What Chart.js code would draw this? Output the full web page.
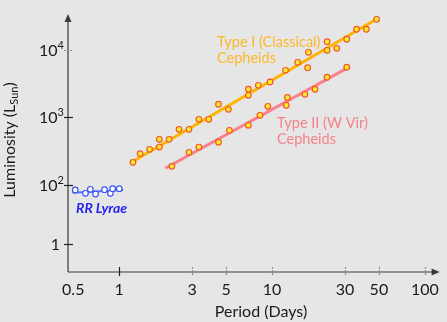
<!DOCTYPE html>
<html>
<head>
<meta charset="utf-8">
<script src="https://cdn.jsdelivr.net/npm/chart.js@4.4.1/dist/chart.umd.min.js"></script>
<style>
  html, body { margin: 0; padding: 0; background: #e6e6e6; }
  #wrap { width: 447px; height: 322px; }
</style>
</head>
<body>
<div id="wrap"><canvas id="chart" width="447" height="322"></canvas></div>
<script>
// tick values for both log axes
const periodTicks = [0.5, 1, 3, 5, 10, 30, 50, 100];
const lumTicks = [13.4, 100, 1000, 10000];
const lumTickLabels = ["1", "10^2", "10^3", "10^4"];

// Type I (classical) cepheids
const type1Period = [1.23, 1.37, 1.58, 1.83, 1.83, 2.12, 2.46, 2.86, 3.32, 3.85, 4.46, 5.18, 7.0, 7.0, 8.13, 9.7, 12.25, 14.7, 17.1, 17.3, 22.9, 22.9, 26.5, 30.8, 35.7, 41.4, 48.3];
const type1Lum = [217, 291, 338, 475, 365, 475, 668, 668, 940, 940, 1570, 1321, 2620, 2133, 3000, 3360, 5000, 6575, 5470, 9250, 13270, 9900, 10600, 14430, 20300, 20300, 28500];
const type1FitPeriod = [1.18, 49.7];
const type1FitLum = [212, 29800];

// Type II (W Vir) cepheids
const type2Period = [2.21, 2.86, 3.32, 4.46, 5.26, 7.0, 8.33, 9.38, 12.4, 12.6, 16.4, 19.1, 22.9, 30.8];
const type2Lum = [189, 305, 365, 430, 646, 766, 1078, 1466, 1517, 1977, 2207, 2620, 3945, 5550];
const type2FitPeriod = [2.0, 32.3];
const type2FitLum = [177, 5660];

// RR Lyrae
const rrPeriod = [0.515, 0.601, 0.647, 0.70, 0.80, 0.875, 0.905, 1.0];
const rrLum = [84.3, 75.3, 86.3, 73.5, 85.2, 75.3, 88.1, 88.1];
const rrFitPeriod = [0.495, 1.06];
const rrFitLum = [76.9, 84.3];

const FONT = "Lato, 'Open Sans', sans-serif";

function pts(xs, ys) {
  return xs.map((x, i) => ({ x: x, y: ys[i] }));
}

const axesPlugin = {
  id: "axesPlugin",
  afterDraw(chart) {
    const ctx = chart.ctx;
    const a = chart.chartArea;
    const xs = chart.scales.x;
    const ys = chart.scales.y;
    ctx.save();

    // axis lines + arrows
    ctx.strokeStyle = "#3a3a3a";
    ctx.fillStyle = "#3a3a3a";
    ctx.lineWidth = 1.2;
    ctx.beginPath();
    ctx.moveTo(a.left, a.bottom);
    ctx.lineTo(a.left, a.top + 4);
    ctx.moveTo(a.left, a.bottom);
    ctx.lineTo(a.right - 4, a.bottom);
    ctx.stroke();
    ctx.beginPath();
    ctx.moveTo(a.left, a.top - 1);
    ctx.lineTo(a.left - 3.5, a.top + 7);
    ctx.lineTo(a.left + 3.5, a.top + 7);
    ctx.closePath();
    ctx.fill();
    ctx.beginPath();
    ctx.moveTo(a.right + 1, a.bottom);
    ctx.lineTo(a.right - 7, a.bottom - 3.5);
    ctx.lineTo(a.right - 7, a.bottom + 3.5);
    ctx.closePath();
    ctx.fill();

    // tick marks crossing the axes
    periodTicks.forEach(v => {
      if (v < 0.9) return;
      const px = Math.round(xs.getPixelForValue(v)) + 0.5;
      const light = v > 1;
      ctx.strokeStyle = light ? "#8c8c8c" : "#222";
      ctx.setLineDash(light ? [2, 1] : []);
      ctx.beginPath();
      ctx.moveTo(px, a.bottom - 5);
      ctx.lineTo(px, a.bottom + 4);
      ctx.stroke();
    });
    lumTicks.forEach((v, i) => {
      const py = Math.round(ys.getPixelForValue(v)) + 0.5;
      const light = v >= 10000;
      ctx.strokeStyle = light ? "#8c8c8c" : "#222";
      ctx.setLineDash(light ? [2, 1] : []);
      ctx.beginPath();
      ctx.moveTo(a.left - 4, py);
      ctx.lineTo(a.left + 5, py);
      ctx.stroke();

      // y tick labels with superscripts
      const parts = lumTickLabels[i].split("^");
      ctx.fillStyle = "#1a1a1a";
      ctx.textAlign = "right";
      ctx.textBaseline = "alphabetic";
      if (parts.length === 2) {
        ctx.font = "11px " + FONT;
        const ew = ctx.measureText(parts[1]).width;
        ctx.fillText(parts[1], a.left - 4, py - 1.5);
        ctx.font = "16px " + FONT;
        ctx.fillText(parts[0], a.left - 4 - ew, py + 5.5);
      } else {
        ctx.font = "16px " + FONT;
        ctx.fillText(parts[0], a.left - 8, py + 5.5);
      }
    });
    ctx.setLineDash([]);

    // axis titles
    ctx.fillStyle = "#1a1a1a";
    ctx.textAlign = "center";
    ctx.font = "16px " + FONT;
    ctx.fillText("Period (Days)", 261, 317);

    ctx.save();
    ctx.translate(15, 140);
    ctx.rotate(-Math.PI / 2);
    ctx.textAlign = "left";
    ctx.font = "16px " + FONT;
    const t1 = "Luminosity (L", t3 = ")";
    const w1 = ctx.measureText(t1).width;
    const w3 = ctx.measureText(t3).width;
    ctx.font = "11px " + FONT;
    const w2 = ctx.measureText("Sun").width;
    let x0 = -(w1 + w2 + w3) / 2;
    ctx.font = "16px " + FONT;
    ctx.fillText(t1, x0, 0);
    ctx.font = "11px " + FONT;
    ctx.fillText("Sun", x0 + w1, 3);
    ctx.font = "16px " + FONT;
    ctx.fillText(t3, x0 + w1 + w2, 0);
    ctx.restore();

    // series labels
    ctx.textAlign = "left";
    ctx.font = "14.5px " + FONT;
    ctx.fillStyle = "#fdb828";
    ctx.fillText("Type I (Classical)", 217, 47);
    ctx.fillText("Cepheids", 217, 63);
    ctx.fillStyle = "#f6808a";
    ctx.fillText("Type II (W Vir)", 277, 128);
    ctx.fillText("Cepheids", 277, 144);
    ctx.fillStyle = "#2424ee";
    ctx.font = "italic bold 14px " + FONT;
    ctx.fillText("RR Lyrae", 76, 213);

    ctx.restore();
  }
};

const starPoint = {
  showLine: false,
  pointRadius: 2.8,
  pointBackgroundColor: "#ffea2a",
  pointBorderColor: "#f0562a",
  pointBorderWidth: 1.2,
  order: 1
};

new Chart(document.getElementById("chart"), {
  type: "scatter",
  data: {
    datasets: [
      Object.assign({ label: "Type I", data: pts(type1Period, type1Lum) }, starPoint),
      Object.assign({ label: "Type II", data: pts(type2Period, type2Lum) }, starPoint),
      {
        label: "RR Lyrae",
        data: pts(rrPeriod, rrLum),
        showLine: false,
        pointRadius: 2.8,
        pointBackgroundColor: "#ffffff",
        pointBorderColor: "#3a55f5",
        pointBorderWidth: 1.2,
        order: 1
      },
      {
        label: "Type I fit",
        data: pts(type1FitPeriod, type1FitLum),
        showLine: true,
        borderColor: "#ffb300",
        borderWidth: 3,
        pointRadius: 0,
        order: 2
      },
      {
        label: "Type II fit",
        data: pts(type2FitPeriod, type2FitLum),
        showLine: true,
        borderColor: "#fa808c",
        borderWidth: 3,
        pointRadius: 0,
        order: 2
      },
      {
        label: "RR fit",
        data: pts(rrFitPeriod, rrFitLum),
        showLine: true,
        borderColor: "#5a70f5",
        borderWidth: 2,
        pointRadius: 0,
        order: 2
      }
    ]
  },
  options: {
    responsive: false,
    animation: false,
    layout: { padding: { top: 15, right: 3, left: 0, bottom: 0 } },
    plugins: { legend: { display: false }, tooltip: { enabled: false } },
    scales: {
      x: {
        type: "logarithmic",
        min: 0.462,
        max: 123,
        afterBuildTicks: s => { s.ticks = periodTicks.map(v => ({ value: v })); },
        afterFit: s => { s.height = 50; },
        grid: { display: false, drawTicks: false },
        border: { display: false },
        ticks: {
          font: { family: FONT, size: 16 },
          color: "#1a1a1a",
          padding: 8,
          maxRotation: 0,
          autoSkip: false,
          callback: v => String(v)
        }
      },
      y: {
        type: "logarithmic",
        min: 5.14,
        max: 33000,
        afterBuildTicks: s => { s.ticks = lumTicks.map(v => ({ value: v })); },
        afterFit: s => { s.width = 68; },
        grid: { display: false, drawTicks: false },
        border: { display: false },
        ticks: { display: false }
      }
    }
  },
  plugins: [axesPlugin]
});
</script>
</body>
</html>
